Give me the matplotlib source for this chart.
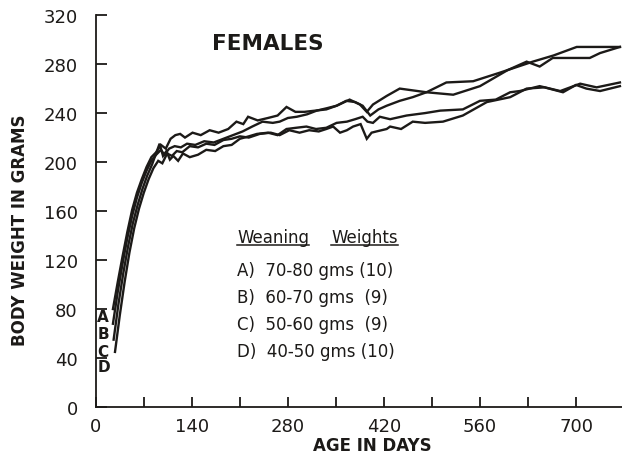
import matplotlib
matplotlib.use("Agg")
import matplotlib.pyplot as plt
from matplotlib.lines import Line2D

# growth curves, body weight (g) by age (days), one per weaning-weight group
days_a = [25, 32, 39, 46, 53, 60, 67, 74, 81, 88,
          95, 102, 109, 116, 123, 130, 141, 153, 166, 179,
          193, 205, 215, 222, 236, 251, 265, 278, 291, 304,
          320, 336, 351, 370, 385, 395, 404, 424, 443, 482,
          511, 550, 589, 637, 667, 701, 764]
wt_a = [80, 102, 123, 143, 161, 175, 186, 196, 204, 208,
        214, 211, 219, 222, 223, 220, 224, 222, 226, 224,
        227, 233, 231, 237, 234, 236, 238, 245, 241, 241,
        242, 243, 246, 251, 247, 241, 247, 254, 260, 257,
        265, 266, 273, 282, 287, 294, 294]

days_b = [25, 32, 39, 46, 53, 60, 67, 74, 81, 88,
          95, 100, 107, 115, 124, 133, 145, 158, 172, 186,
          200, 214, 228, 243, 258, 268, 280, 293, 308, 322,
          337, 351, 365, 378, 389, 400, 412, 424, 443, 462,
          482, 521, 560, 600, 628, 647, 666, 720, 735, 764]
wt_b = [68, 94, 117, 138, 156, 171, 183, 193, 201, 206,
        210, 206, 211, 213, 212, 215, 214, 217, 216, 219,
        222, 225, 229, 233, 232, 233, 236, 237, 239, 242,
        244, 246, 250, 249, 246, 238, 243, 246, 250, 253,
        257, 255, 262, 275, 282, 278, 285, 285, 289, 294]

days_c = [26, 33, 40, 47, 54, 61, 68, 75, 82, 93,
          98, 103, 108, 113, 120, 127, 137, 149, 161, 174,
          186, 198, 210, 223, 235, 251, 265, 278, 292, 307,
          321, 336, 351, 366, 378, 389, 396, 404, 414, 429,
          453, 480, 502, 535, 560, 583, 604, 618, 647, 677,
          706, 730, 764]
wt_c = [55, 84, 109, 131, 150, 165, 178, 189, 198, 215,
        205, 209, 202, 205, 201, 207, 204, 206, 210, 209,
        213, 214, 219, 221, 223, 224, 222, 227, 228, 229,
        227, 228, 232, 233, 235, 237, 233, 232, 237, 235,
        238, 240, 242, 243, 250, 251, 257, 258, 262, 258,
        264, 261, 265]

days_d = [28, 35, 42, 49, 56, 63, 70, 77, 84, 91,
          97, 104, 111, 118, 126, 137, 149, 161, 173, 186,
          198, 210, 223, 239, 255, 268, 282, 297, 311, 325,
          336, 346, 356, 366, 375, 386, 395, 402, 409, 424,
          429, 445, 462, 480, 506, 535, 570, 604, 628, 654,
          681, 700, 715, 735, 764]
wt_d = [45, 75, 102, 126, 146, 162, 175, 186, 195, 201,
        199, 207, 205, 209, 208, 213, 212, 215, 214, 218,
        219, 221, 220, 223, 224, 222, 226, 224, 226, 225,
        227, 229, 224, 226, 229, 231, 219, 224, 225, 227,
        229, 227, 233, 232, 233, 238, 249, 253, 260, 261,
        257, 263, 260, 258, 262]

group_letters = ["A", "B", "C", "D"]
letter_y = [74, 60, 45, 33]
key_lines = ["A)  70-80 gms (10)", "B)  60-70 gms  (9)",
             "C)  50-60 gms  (9)", "D)  40-50 gms (10)"]

ink = "#1c1a18"
plt.rcParams["font.family"] = "DejaVu Sans"

fig = plt.figure(figsize=(6.22, 4.60), dpi=100)
ax = fig.add_axes([0.154, 0.113, 0.846, 0.852])

for d, w in [(days_a, wt_a), (days_b, wt_b), (days_c, wt_c), (days_d, wt_d)]:
    ax.plot(d, w, color=ink, lw=1.7, solid_joinstyle="miter")

ax.set_xlim(0, 767)
ax.set_ylim(0, 320)
ax.spines["top"].set_visible(False)
ax.spines["right"].set_visible(False)
for s in ("left", "bottom"):
    ax.spines[s].set_color(ink)
    ax.spines[s].set_linewidth(1.3)

ax.set_yticks(range(0, 321, 40))
ax.set_xticks(range(0, 701, 140))
ax.set_xticks(range(70, 767, 140), minor=True)
ax.tick_params(axis="both", which="both", direction="in", color=ink, width=1.3)
ax.tick_params(axis="y", length=8, pad=13, labelsize=13, labelcolor=ink)
ax.tick_params(axis="x", which="both", length=7, pad=7, labelsize=13, labelcolor=ink)

ax.set_xlabel("AGE IN DAYS", fontsize=12, fontweight="bold", color=ink, va="center")
ax.xaxis.set_label_coords((372 - 96) / 526, -0.098)
fig.text(20 / 622, 1 - 230 / 460, "BODY WEIGHT IN GRAMS", rotation=90,
         ha="center", va="center", fontsize=12, fontweight="bold", color=ink)

ax.text(0.327, 0.93, "FEMALES", transform=ax.transAxes, fontsize=15.5,
        fontweight="bold", color=ink, ha="center", va="center")

for letter, y in zip(group_letters, letter_y):
    ax.text(2, y, letter, fontsize=11, fontweight="bold", color=ink,
            ha="left", va="center")

# key block with underlined heading words
head = []
x0 = 237 / 622
base = 1 - 243 / 460
for word, xf in [("Weaning", x0), ("Weights", 331 / 622)]:
    head.append(fig.text(xf, base, word, fontsize=12, color=ink,
                         ha="left", va="baseline"))
for i, line in enumerate(key_lines):
    fig.text(x0, 1 - (271 + 27 * i) / 460, line, fontsize=12, color=ink,
             ha="left", va="center")

fig.canvas.draw()
r = fig.canvas.get_renderer()
yy = base - 2.5 / fig.bbox.height
for t in head:
    bb = t.get_window_extent(r)
    fig.add_artist(Line2D([bb.x0 / fig.bbox.width, bb.x1 / fig.bbox.width], [yy, yy],
                          transform=fig.transFigure, color=ink, lw=1.1))

fig.savefig("out.png", dpi=100)
